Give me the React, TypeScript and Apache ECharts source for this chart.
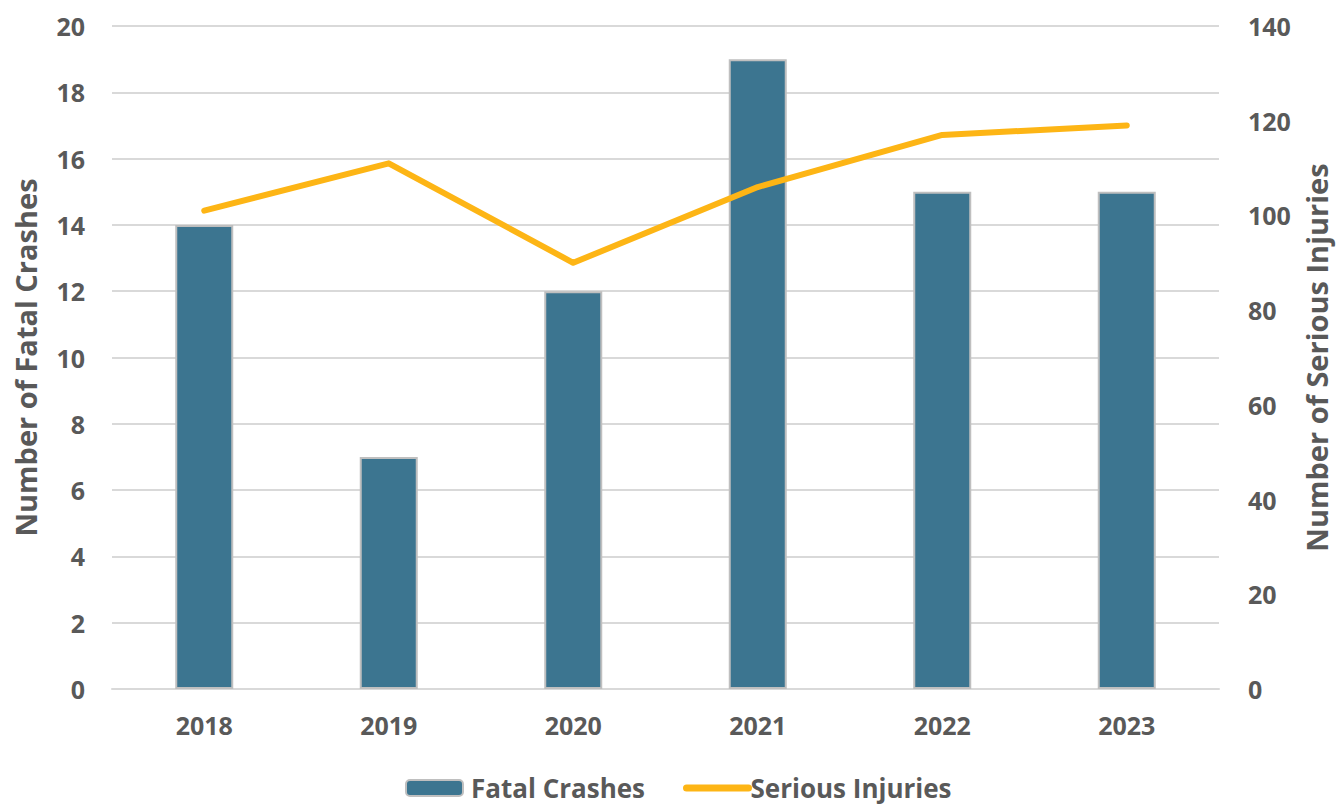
import React, { useEffect, useRef } from "react";
import * as echarts from "echarts";

const years = ["2018", "2019", "2020", "2021", "2022", "2023"];
const fatalCrashes = [14, 7, 12, 19, 15, 15];
const seriousInjuries = [101, 111, 90, 106, 117, 119];

const FONT = "'Open Sans', 'Noto Sans', sans-serif";
const TXT = "#595959";
const BAR = "#3c7590";
const LINE = "#fdb515";

export default function App() {
  const ref = useRef<HTMLDivElement>(null);
  useEffect(() => {
    if (!ref.current) return;
    const chart = echarts.init(ref.current, undefined, { renderer: "svg" });
    const legendText = { fontFamily: FONT, fontSize: 26, fontWeight: "bold", color: TXT };
    chart.setOption({
      animation: false,
      textStyle: { fontFamily: FONT },
      grid: { left: 112, right: 125, top: 26, bottom: 117 },
      legend: [
        {
          left: 405,
          top: 775,
          padding: 0,
          itemWidth: 57,
          itemHeight: 16,
          textStyle: { ...legendText, padding: [0, 0, 0, 3] },
          data: [{ name: "Fatal Crashes", itemStyle: { color: BAR, borderColor: "#bfbfbf", borderWidth: 2 } }],
        },
        {
          left: 683,
          top: 775,
          padding: 0,
          itemWidth: 62,
          itemHeight: 16,
          textStyle: { ...legendText, padding: [0, 0, 0, -3] },
          data: [
            {
              name: "Serious Injuries",
              itemStyle: { opacity: 0 },
              lineStyle: { width: 7, color: LINE, cap: "round" },
            },
          ],
        },
      ],
      xAxis: {
        type: "category",
        data: years,
        axisLine: { show: true, lineStyle: { color: "#d9d9d9", width: 2 } },
        axisTick: { show: false },
        axisLabel: { color: TXT, fontFamily: FONT, fontSize: 25, fontWeight: "bold", margin: 23 },
      },
      yAxis: [
        {
          type: "value",
          min: 0,
          max: 20,
          interval: 2,
          name: "Number of Fatal Crashes",
          nameLocation: "middle",
          nameGap: 72,
          nameTextStyle: { color: TXT, fontFamily: FONT, fontSize: 29, fontWeight: "bold" },
          axisLabel: { color: TXT, fontFamily: FONT, fontSize: 25, fontWeight: "bold", margin: 27 },
          splitLine: { lineStyle: { color: "#d9d9d9", width: 2 } },
          axisLine: { show: false },
          axisTick: { show: false },
        },
        {
          type: "value",
          min: 0,
          max: 140,
          interval: 20,
          name: "Number of Serious Injuries",
          nameLocation: "middle",
          nameGap: 80,
          nameRotate: 90,
          nameTextStyle: { color: TXT, fontFamily: FONT, fontSize: 29, fontWeight: "bold" },
          axisLabel: { color: TXT, fontFamily: FONT, fontSize: 25, fontWeight: "bold", margin: 29 },
          splitLine: { show: false },
          axisLine: { show: false },
          axisTick: { show: false },
        },
      ],
      series: [
        {
          name: "Fatal Crashes",
          type: "bar",
          data: fatalCrashes,
          barWidth: 58,
          itemStyle: { color: BAR, borderColor: "#bfbfbf", borderWidth: 2 },
        },
        {
          name: "Serious Injuries",
          type: "line",
          yAxisIndex: 1,
          data: seriousInjuries,
          symbol: "none",
          lineStyle: { color: LINE, width: 6, cap: "round", join: "round" },
          itemStyle: { color: LINE },
        },
      ],
    });
    return () => chart.dispose();
  }, []);
  return (
    <div
      ref={ref}
      style={{ position: "fixed", left: 0, top: 0, width: 1344, height: 806, background: "#fff" }}
    />
  );
}
